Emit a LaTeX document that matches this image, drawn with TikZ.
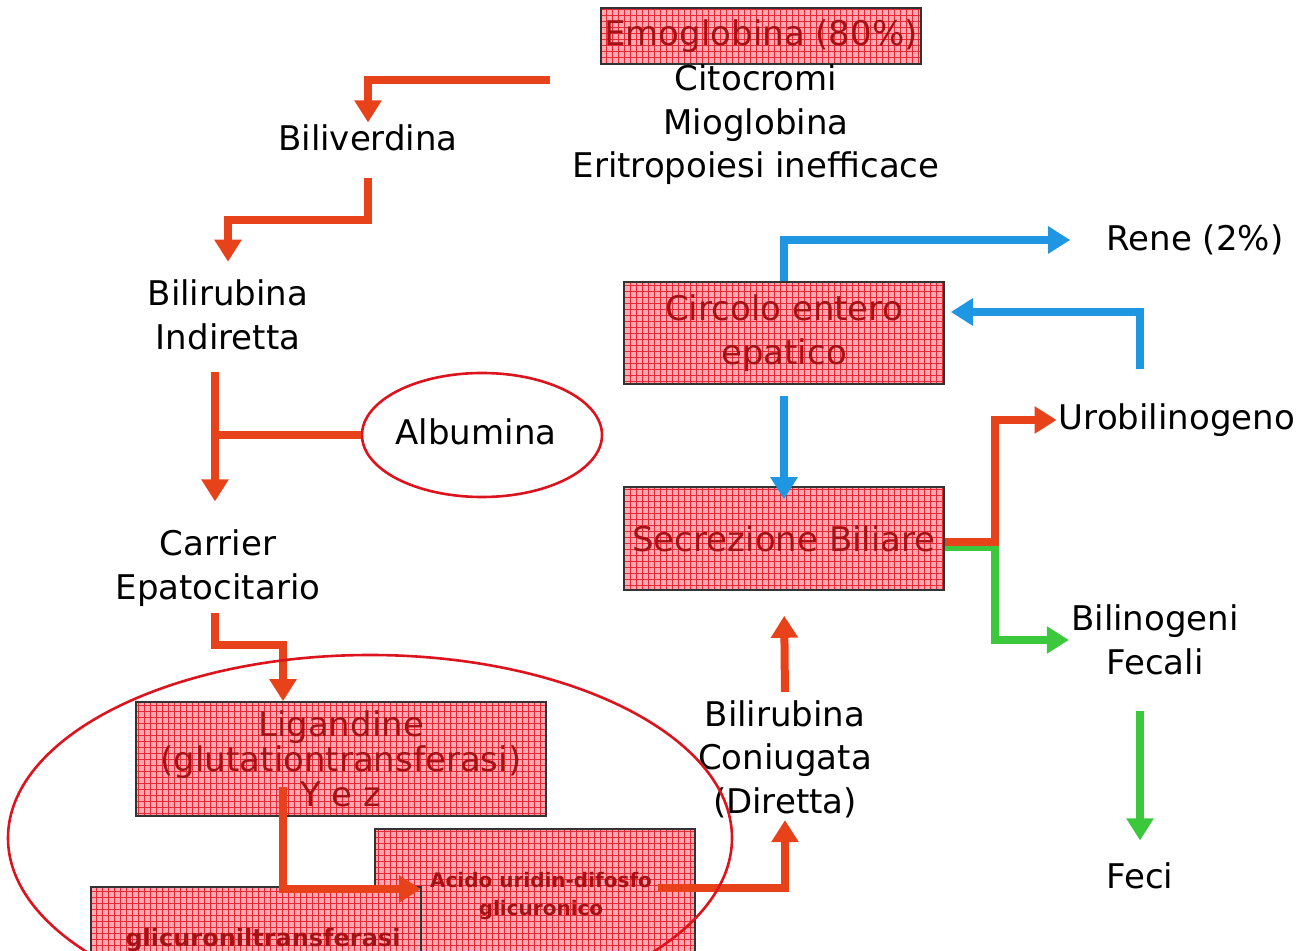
\documentclass[tikz,border=0pt]{standalone}
\usepackage{fontspec}
\setmainfont{DejaVu Sans}
\usetikzlibrary{arrows.meta,patterns,shapes.geometric,calc}
\definecolor{arr}{RGB}{232,66,26}
\definecolor{barr}{RGB}{30,150,225}
\definecolor{garr}{RGB}{60,200,60}
\definecolor{ellred}{RGB}{220,20,30}
\definecolor{boxpink}{RGB}{255,170,178}
\definecolor{gridred}{RGB}{232,40,52}
\definecolor{boxtext}{RGB}{165,18,22}
\begin{document}
\begin{tikzpicture}[x=0.5pt,y=-0.5pt,
  every node/.style={font=\fontsize{17}{21.75}\selectfont},
  txt/.style={inner sep=1pt, align=center, text=black},
  gbox/.style={draw=black!80, line width=0.8pt, preaction={fill=boxpink}, pattern=grid, pattern color=gridred, text=boxtext, align=center, inner sep=0pt},
  smalltxt/.style={inner sep=1pt, align=center, text=boxtext, font=\bfseries\fontsize{10}{14}\selectfont},
  rarrow/.style={draw=arr, line width=4pt, line join=miter, -{Triangle[width=13pt,length=11pt]}},
  barrow/.style={draw=barr, line width=4pt, line join=miter, -{Triangle[width=13pt,length=11pt]}},
  garrow/.style={draw=garr, line width=4pt, line join=miter, -{Triangle[width=13pt,length=11pt]}},
  rline/.style={draw=arr, line width=4pt},
  ell/.style={draw=ellred, line width=1.3pt}]
\useasboundingbox (0,0) rectangle (1301,951);
\clip (0,0) rectangle (1301,951);

% top
\node[gbox, minimum width=160pt, minimum height=28pt] (emo) at (761,36) {Emoglobina (80\%)};
\node[txt] (src) at (756,125) {Citocromi\\Mioglobina\\Eritropoiesi inefficace};
\node[txt] (bv) at (368,138) {Biliverdina};
\node[txt] (bi) at (228,315) {Bilirubina\\Indiretta};
\node[txt] (alb) at (476,432) {Albumina};
\node[ell, ellipse, minimum width=120pt, minimum height=62pt] (albell) at (482,435) {};
\node[txt] (car) at (218,568) {Carrier\\Epatocitario};

% boxes bottom left
\node[gbox, minimum width=205pt, minimum height=57pt, font=\fontsize{17}{17.5}\selectfont] (lig) at (341,759) {Ligandine\\(glutationtransferasi)\\Y e z};
\node[gbox, minimum width=160pt, minimum height=76pt, anchor=north west] (acbox) at (374,828) {};
\node[gbox, minimum width=165pt, minimum height=47pt, anchor=north west] (glbox) at (90,886) {};
\node[smalltxt] (ac) at (541,896) {Acido uridin-difosfo\\glicuronico};
\node[smalltxt, font=\bfseries\fontsize{12}{14}\selectfont] (gl) at (263,940) {glicuroniltransferasi};

% right side
\node[gbox, minimum width=160pt, minimum height=51pt] (circ) at (784,333) {Circolo entero\\epatico};
\node[gbox, minimum width=160pt, minimum height=51.5pt] (sec) at (784,538.5) {Secrezione Biliare};
\node[txt] (bc) at (785,759) {Bilirubina\\Coniugata\\(Diretta)};
\node[txt] (rene) at (1195,240) {Rene (2\%)};
\node[txt] (uro) at (1177,420) {Urobilinogeno};
\node[txt] (bf) at (1155,640) {Bilinogeni\\Fecali};
\node[txt] (feci) at (1140,876) {Feci};

% coordinates
\coordinate (s1) at (550,80);
\coordinate (b2) at (228,220);
\coordinate (ax) at (215,0);
\coordinate (b4) at (283,645);
\coordinate (l1) at (283,787);
\coordinate (l2) at (421,889);
\coordinate (a6) at (658,888);
\coordinate (jr) at (995,542);
\coordinate (jg) at (995,547);
\coordinate (bx) at (1140,0);

% red flow
\draw[rarrow] (s1) -| (bv.north);
\draw[rarrow, shorten <=12pt] (bv.south) |- (b2) -- ([yshift=8pt]bi.north);
\draw[rarrow, shorten <=10pt, shorten >=13pt] (bi.south -| ax) -- (car.north -| ax);
\draw[rline] (albell.west) -- (albell.west -| ax);
\draw[rarrow, shorten <=2pt] (car.south -| ax) |- (b4) -- (lig.north -| b4);
\draw[rarrow] (l1) |- (l2);
\draw[rarrow] (a6) -| (bc.south);
\draw[rarrow, shorten <=3pt, shorten >=12.5pt] (bc.north) -- (sec.south);

% big ellipse
\draw[ell] (370,838) ellipse [x radius=362, y radius=183];

% blue
\draw[barrow, shorten <=5.5pt, shorten >=-6.5pt] (circ.south) -- (sec.north);
\draw[barrow, shorten >=17pt] (circ.north) |- (rene.west);
\draw[barrow, shorten <=16pt, shorten >=3pt] (uro.north -| bx) |- ([yshift=10.5pt]circ.east);

% green and red split
\draw[garrow] (sec.east |- jg) -- (jg) |- (bf.west);
\draw[rarrow] (sec.east |- jr) -- (jr) |- (uro.west);
\draw[garrow, shorten <=17pt, shorten >=10pt] (bf.south -| feci) -- (feci.north);
\end{tikzpicture}
\end{document}
